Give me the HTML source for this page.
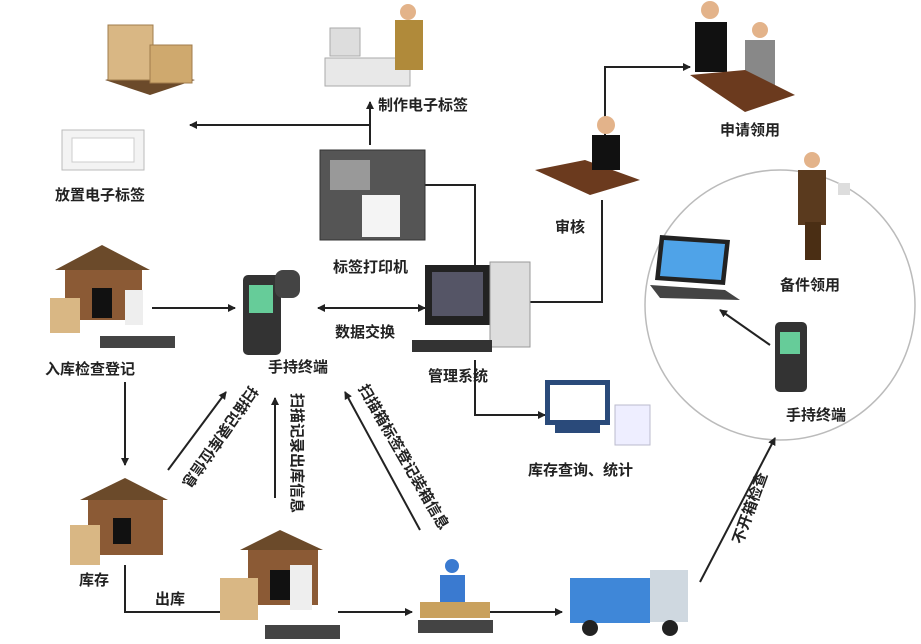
<!DOCTYPE html>
<html><head><meta charset="utf-8"><style>
body{margin:0;background:#fff;width:921px;height:639px;overflow:hidden}
text{font-family:"Liberation Sans","Noto Sans CJK SC",sans-serif;font-weight:bold;font-size:15px;fill:#222}
</style></head><body>
<svg width="921" height="639" viewBox="0 0 921 639" xmlns="http://www.w3.org/2000/svg">
<defs><marker id="a" markerWidth="8" markerHeight="8" refX="7" refY="4" orient="auto" markerUnits="userSpaceOnUse"><path d="M0,0 L8,4 L0,8 z" fill="#222"/></marker>
<marker id="b" markerWidth="8" markerHeight="8" refX="1" refY="4" orient="auto" markerUnits="userSpaceOnUse"><path d="M8,0 L0,4 L8,8 z" fill="#222"/></marker></defs>
<g stroke="#222" stroke-width="2" fill="none">
<circle cx="780" cy="305" r="135" stroke="#bbb" stroke-width="1.5"/>
<path d="M370,145 V102" marker-end="url(#a)"/>
<path d="M370,125 H190" marker-end="url(#a)"/>
<path d="M425,185 H475 V265"/>
<path d="M475,360 V415 H545" marker-end="url(#a)"/>
<path d="M530,302 H602 V200"/>
<path d="M605,160 V67 H690" marker-end="url(#a)"/>
<path d="M152,308 H235" marker-end="url(#a)"/>
<path d="M318,308 H425" marker-start="url(#b)" marker-end="url(#a)"/>
<path d="M125,382 V465" marker-end="url(#a)"/>
<path d="M125,565 V612 H232"/>
<path d="M338,612 H412" marker-end="url(#a)"/>
<path d="M490,612 H562" marker-end="url(#a)"/>
<path d="M168,470 L226,392" marker-end="url(#a)"/>
<path d="M275,498 V398" marker-end="url(#a)"/>
<path d="M420,530 L345,392" marker-end="url(#a)"/>
<path d="M700,582 L775,438" marker-end="url(#a)"/>
<path d="M770,345 L720,310" marker-end="url(#a)"/>
</g>
<polygon points="105,80 150,95 195,80 150,68" fill="#6b4a2a"/>
<rect x="108" y="25" width="45" height="55" fill="#d9b784" stroke="#a07c4c"/>
<rect x="150" y="45" width="42" height="38" fill="#cfa96e" stroke="#a07c4c"/>
<rect x="62" y="130" width="82" height="40" fill="#f3f3f3" stroke="#bbb"/>
<rect x="72" y="138" width="62" height="24" fill="#fff" stroke="#ccc"/>
<rect x="330" y="28" width="30" height="28" fill="#ddd" stroke="#aaa"/>
<rect x="325" y="58" width="85" height="28" fill="#e8e8e8" stroke="#aaa"/>
<rect x="395" y="20" width="28" height="50" fill="#b08a3a"/><circle cx="408" cy="12" r="8" fill="#e3b38a"/>
<rect x="320" y="150" width="105" height="90" fill="#555" stroke="#333"/>
<rect x="330" y="160" width="40" height="30" fill="#999"/>
<rect x="362" y="195" width="38" height="42" fill="#f4f4f4"/>
<rect x="425" y="265" width="65" height="60" fill="#222"/><rect x="432" y="272" width="51" height="44" fill="#556"/>
<rect x="490" y="262" width="40" height="85" fill="#ddd" stroke="#999"/>
<rect x="412" y="340" width="80" height="12" fill="#333"/>
<rect x="545" y="380" width="65" height="45" fill="#2a4a7a"/><rect x="550" y="385" width="55" height="35" fill="#fff"/>
<rect x="555" y="425" width="45" height="8" fill="#2a4a7a"/>
<rect x="615" y="405" width="35" height="40" fill="#eef" stroke="#bbc"/>
<polygon points="535,170 585,160 640,180 590,195" fill="#6b3a1e"/>
<rect x="592" y="135" width="28" height="35" fill="#111"/><circle cx="606" cy="125" r="9" fill="#e3b38a"/>
<rect x="695" y="22" width="32" height="50" fill="#111"/><circle cx="710" cy="10" r="9" fill="#e3b38a"/>
<rect x="745" y="40" width="30" height="45" fill="#888"/><circle cx="760" cy="30" r="8" fill="#e3b38a"/>
<polygon points="690,75 745,70 795,95 745,112" fill="#6b3a1e"/>
<polygon points="660,235 730,240 725,285 655,280" fill="#222"/><polygon points="664,240 725,244 721,280 660,276" fill="#4fa3e8"/>
<polygon points="650,285 725,290 740,300 660,298" fill="#444"/>
<rect x="798" y="170" width="28" height="55" fill="#5a3a1e"/><rect x="805" y="222" width="16" height="38" fill="#4a2e14"/><circle cx="812" cy="160" r="8" fill="#e3b38a"/>
<rect x="838" y="183" width="12" height="12" fill="#ddd"/>
<rect x="775" y="322" width="32" height="70" rx="5" fill="#333"/><rect x="780" y="332" width="20" height="22" fill="#6c9"/>
<rect x="243" y="275" width="38" height="80" rx="5" fill="#333"/><rect x="249" y="285" width="24" height="28" fill="#6c9"/><rect x="275" y="270" width="25" height="28" rx="8" fill="#444"/>
<polygon points="55,270 102,245 150,270" fill="#6b4a2a"/><rect x="65" y="270" width="77" height="50" fill="#8b5a35"/><rect x="92" y="288" width="20" height="30" fill="#111"/>
<rect x="50" y="298" width="30" height="35" fill="#d9b784"/><rect x="100" y="336" width="75" height="12" fill="#444"/>
<rect x="125" y="290" width="18" height="35" fill="#eee"/>
<polygon points="80,500 125,478 168,500" fill="#6b4a2a"/><rect x="88" y="500" width="75" height="55" fill="#8b5a35"/><rect x="113" y="518" width="18" height="26" fill="#111"/>
<rect x="70" y="525" width="30" height="40" fill="#d9b784"/>
<polygon points="240,550 280,530 323,550" fill="#6b4a2a"/><rect x="248" y="550" width="70" height="55" fill="#8b5a35"/><rect x="270" y="570" width="20" height="30" fill="#111"/>
<rect x="220" y="578" width="38" height="42" fill="#d9b784"/><rect x="265" y="625" width="75" height="14" fill="#444"/>
<rect x="290" y="565" width="22" height="45" fill="#eee"/>
<circle cx="452" cy="566" r="7" fill="#3a7ad0"/><rect x="440" y="575" width="25" height="35" fill="#3a7ad0"/>
<rect x="420" y="602" width="70" height="16" fill="#c9a15e"/><rect x="418" y="620" width="75" height="13" fill="#444"/>
<rect x="570" y="578" width="80" height="45" fill="#3f87d8"/><rect x="650" y="570" width="38" height="52" fill="#cfd8e0"/>
<circle cx="590" cy="628" r="8" fill="#222"/><circle cx="670" cy="628" r="8" fill="#222"/>
<text x="55" y="200">放置电子标签</text>
<text x="378" y="110">制作电子标签</text>
<text x="333" y="272">标签打印机</text>
<text x="428" y="381">管理系统</text>
<text x="335" y="337">数据交换</text>
<text x="268" y="372">手持终端</text>
<text x="45" y="374">入库检查登记</text>
<text x="79" y="585">库存</text>
<text x="155" y="604">出库</text>
<text x="528" y="475">库存查询、统计</text>
<text x="555" y="232">审核</text>
<text x="720" y="135">申请领用</text>
<text x="780" y="290">备件领用</text>
<text x="786" y="420">手持终端</text>
<text transform="translate(250,385) rotate(125)">扫描记录库位信息</text>
<text transform="translate(292,393) rotate(90)">扫描记录出库信息</text>
<text transform="translate(358,388) rotate(60)">扫描箱标签登记装箱信息</text>
<text transform="translate(742,545) rotate(-70)">不开箱检查</text>
</svg>
</body></html>
